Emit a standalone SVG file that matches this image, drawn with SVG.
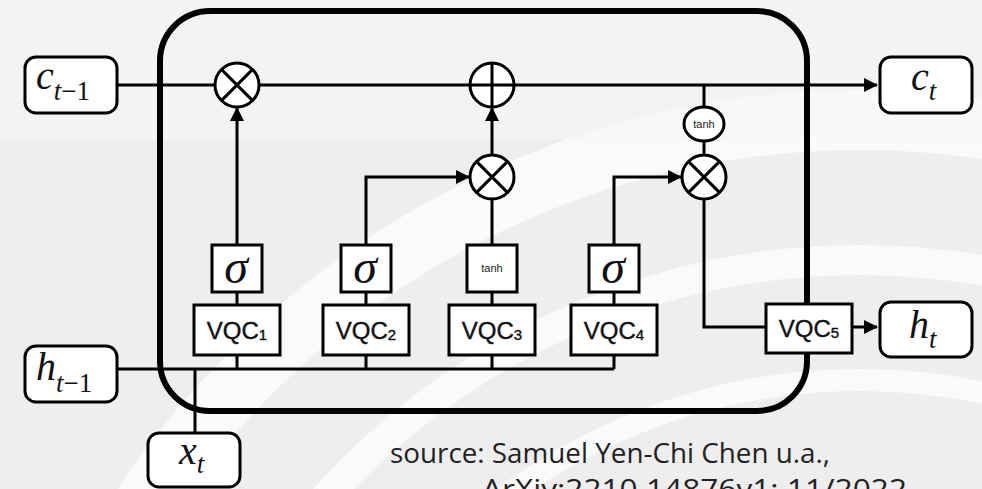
<svg xmlns="http://www.w3.org/2000/svg" width="982" height="489" viewBox="0 0 982 489">
  <defs>
    <marker id="arrow" markerUnits="userSpaceOnUse" markerWidth="14" markerHeight="14" viewBox="0 0 14 14" refX="13" refY="7" orient="auto">
      <path d="M0,0 L14,7 L0,14 Z" fill="#000"/>
    </marker>
  </defs>
  <style>
    .wire { fill: none; stroke: #000; stroke-width: 3; }
    .box { fill: #fff; stroke: #000; stroke-width: 3; }
    .io { fill: #fff; stroke: #000; stroke-width: 3; }
    .op { fill: #fff; stroke: #000; stroke-width: 3; }
    .frame { fill: none; stroke: #000; stroke-width: 6; }
    .math { font-family: "Liberation Serif", "DejaVu Serif", serif; font-style: italic; fill: #111; }
    .roman { font-style: normal; }
    .vqc { font-family: "Liberation Sans", Arial, sans-serif; font-size: 24px; fill: #111; text-anchor: middle; stroke: #111; stroke-width: 0.4; }
    .sig { font-family: "Liberation Serif", "DejaVu Serif", serif; font-style: italic; font-size: 48px; fill: #111; text-anchor: middle; }
    .small { font-family: "Liberation Sans", Arial, sans-serif; font-size: 11px; fill: #222; text-anchor: middle; }
    .src { font-family: "Open Sans", "Liberation Sans", sans-serif; font-size: 28px; fill: #222; }
  </style>

  <!-- background watermark -->
  <rect x="0" y="0" width="982" height="489" fill="#eeeeee"/>
  <g fill="none" stroke="#fafafa">
    <circle cx="860" cy="980" r="860" stroke-width="60"/>
    <circle cx="860" cy="980" r="720" stroke-width="30"/>
    <circle cx="860" cy="980" r="600" stroke-width="22"/>
  </g>
  <rect x="0" y="0" width="982" height="140" fill="#f7f7f7" opacity="0.6"/>

  <!-- connectors -->
  <g id="connectors">
    <line class="wire" x1="117" y1="85" x2="877" y2="85" marker-end="url(#arrow)"/>
    <line class="wire" x1="117" y1="369" x2="614" y2="369"/>
    <line class="wire" x1="195" y1="369" x2="195" y2="433"/>
    <line class="wire" x1="237" y1="355" x2="237" y2="369"/>
    <line class="wire" x1="366" y1="355" x2="366" y2="369"/>
    <line class="wire" x1="492" y1="355" x2="492" y2="369"/>
    <line class="wire" x1="614" y1="355" x2="614" y2="369"/>
    <line class="wire" x1="237" y1="292" x2="237" y2="305"/>
    <line class="wire" x1="366" y1="292" x2="366" y2="305"/>
    <line class="wire" x1="492" y1="292" x2="492" y2="305"/>
    <line class="wire" x1="614" y1="292" x2="614" y2="305"/>
    <line class="wire" x1="237" y1="245" x2="237" y2="108" marker-end="url(#arrow)"/>
    <polyline class="wire" points="366,245 366,177 469,177" marker-end="url(#arrow)"/>
    <line class="wire" x1="492" y1="245" x2="492" y2="199"/>
    <line class="wire" x1="492" y1="155" x2="492" y2="108" marker-end="url(#arrow)"/>
    <polyline class="wire" points="614,245 614,177 681,177" marker-end="url(#arrow)"/>
    <line class="wire" x1="704" y1="85" x2="704" y2="155"/>
    <polyline class="wire" points="704,199 704,327 766,327"/>
    <line class="wire" x1="852" y1="327" x2="877" y2="327" marker-end="url(#arrow)"/>
  </g>

  <!-- cell frame -->
  <rect id="cell" class="frame" x="160" y="11" width="647" height="400" rx="50" ry="50"/>

  <!-- operators -->
  <g id="mul-forget">
    <circle class="op" cx="237" cy="85" r="22"/>
    <path class="wire" d="M221.4,69.4 L252.6,100.6 M252.6,69.4 L221.4,100.6"/>
  </g>
  <g id="add-cell">
    <circle class="op" cx="492" cy="85" r="22"/>
    <path class="wire" d="M470,85 L514,85 M492,63 L492,107"/>
  </g>
  <g id="mul-input">
    <circle class="op" cx="492" cy="177" r="22"/>
    <path class="wire" d="M476.4,161.4 L507.6,192.6 M507.6,161.4 L476.4,192.6"/>
  </g>
  <g id="mul-output">
    <circle class="op" cx="704" cy="177" r="22"/>
    <path class="wire" d="M688.4,161.4 L719.6,192.6 M719.6,161.4 L688.4,192.6"/>
  </g>
  <g id="tanh-cell">
    <ellipse class="op" cx="704" cy="124" rx="20" ry="17"/>
    <text class="small" x="704" y="128" font-size="10">tanh</text>
  </g>

  <!-- activation boxes -->
  <g id="sigma1">
    <rect class="box" x="212" y="245" width="50" height="47"/>
    <text class="sig" x="236" y="283">σ</text>
  </g>
  <g id="sigma2">
    <rect class="box" x="341" y="245" width="50" height="47"/>
    <text class="sig" x="365" y="283">σ</text>
  </g>
  <g id="tanh3">
    <rect class="box" x="467" y="245" width="50" height="47"/>
    <text class="small" x="492" y="272">tanh</text>
  </g>
  <g id="sigma4">
    <rect class="box" x="589" y="245" width="50" height="47"/>
    <text class="sig" x="613" y="283">σ</text>
  </g>

  <!-- VQC boxes -->
  <g id="vqc1">
    <rect class="box" x="194" y="305" width="86" height="50"/>
    <text class="vqc" x="237" y="339">VQC<tspan font-size="15" dy="1">1</tspan></text>
  </g>
  <g id="vqc2">
    <rect class="box" x="323" y="305" width="86" height="50"/>
    <text class="vqc" x="366" y="339">VQC<tspan font-size="15" dy="1">2</tspan></text>
  </g>
  <g id="vqc3">
    <rect class="box" x="449" y="305" width="86" height="50"/>
    <text class="vqc" x="492" y="339">VQC<tspan font-size="15" dy="1">3</tspan></text>
  </g>
  <g id="vqc4">
    <rect class="box" x="571" y="305" width="86" height="50"/>
    <text class="vqc" x="614" y="339">VQC<tspan font-size="15" dy="1">4</tspan></text>
  </g>
  <g id="vqc5">
    <rect class="box" x="766" y="304" width="86" height="49"/>
    <text class="vqc" x="809" y="337">VQC<tspan font-size="15" dy="1">5</tspan></text>
  </g>

  <!-- input/output nodes -->
  <g id="c-prev">
    <rect class="io" x="25" y="57" width="92" height="56" rx="11"/>
    <text class="math" x="36" y="89" font-size="40">c<tspan font-size="27" dy="11">t</tspan><tspan class="roman" font-size="27">−1</tspan></text>
  </g>
  <g id="h-prev">
    <rect class="io" x="25" y="346" width="92" height="56" rx="11"/>
    <text class="math" x="36" y="380" font-size="40">h<tspan font-size="27" dy="12">t</tspan><tspan class="roman" font-size="27">−1</tspan></text>
  </g>
  <g id="x-t">
    <rect class="io" x="148" y="433" width="92" height="54" rx="11"/>
    <text class="math" x="179" y="464" font-size="40">x<tspan font-size="27" dy="9">t</tspan></text>
  </g>
  <g id="c-t">
    <rect class="io" x="880" y="57" width="92" height="56" rx="11"/>
    <text class="math" x="911" y="90" font-size="40">c<tspan font-size="27" dy="10">t</tspan></text>
  </g>
  <g id="h-t">
    <rect class="io" x="880" y="302" width="92" height="55" rx="11"/>
    <text class="math" x="909" y="338" font-size="40">h<tspan font-size="27" dy="10">t</tspan></text>
  </g>

  <!-- source note -->
  <g id="source">
    <text class="src" x="390" y="463" textLength="440" lengthAdjust="spacingAndGlyphs">source: Samuel Yen-Chi Chen u.a.,</text>
    <text class="src" x="482" y="499" textLength="425" lengthAdjust="spacingAndGlyphs">ArXiv:2210.14876v1; 11/2022</text>
  </g>
</svg>
